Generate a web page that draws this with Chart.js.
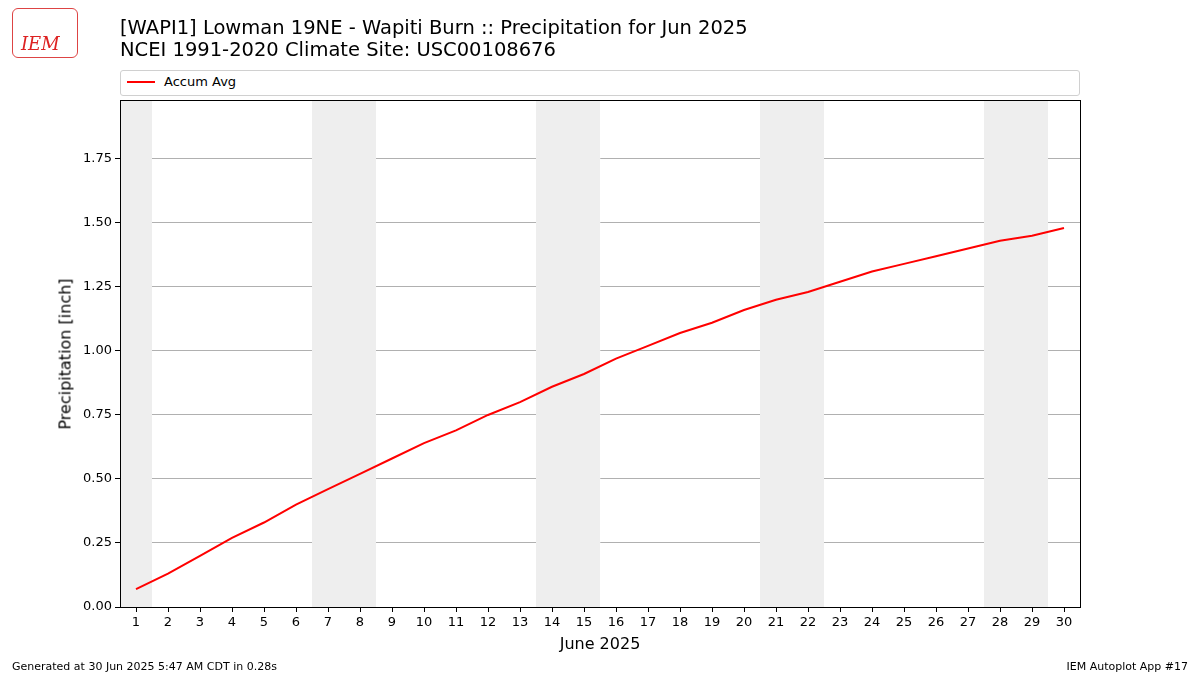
<!DOCTYPE html>
<html>
<head>
<meta charset="utf-8">
<script src="https://cdn.jsdelivr.net/npm/chart.js@4/dist/chart.umd.min.js"></script>
<style>
  body { margin: 0; background: #fff; font-family: "DejaVu Sans", sans-serif; }
  #wrap { position: relative; width: 1200px; height: 675px; }
  canvas { position: absolute; left: 0; top: 0; }
  .title { position: absolute; left: 120px; top: 17px; font-size: 19.5px; line-height: 22px; color: #000; }
  .legend { position: absolute; left: 120px; top: 70px; width: 958px; height: 24px; border: 1px solid #d0d0d0; border-radius: 3px; font-size: 13px; background: #fff; }
  .legend span.l { position: absolute; left: 6px; top: 10px; width: 28px; border-top: 2px solid red; }
  .legend span.t { position: absolute; left: 43px; top: 3px; }
  .foot { position: absolute; top: 660px; font-size: 11px; }
  .xt { position: absolute; left: 500px; width: 200px; text-align: center; top: 634px; font-size: 16px; }
  .yt { position: absolute; left: 65px; top: 354px; font-size: 16px; white-space: nowrap; transform: translate(-50%, -50%) rotate(-90deg); }
  .logo { position: absolute; left: 12px; top: 8px; width: 64px; height: 48px; border: 1px solid #d44; border-radius: 6px; }
  .logo span { position: absolute; left: 8px; top: 24px; color: #d22; font-family: "DejaVu Serif", serif; font-style: italic; font-size: 18px; }
</style>
</head>
<body>
<div id="wrap">
  <canvas id="c" width="1200" height="675"></canvas>
  <div class="logo"><span>IEM</span></div>
  <div class="title">[WAPI1] Lowman 19NE - Wapiti Burn :: Precipitation for Jun 2025<br>NCEI 1991-2020 Climate Site: USC00108676</div>
  <div class="legend"><span class="l"></span><span class="t">Accum Avg</span></div>
  <div class="xt">June 2025</div>
  <div class="yt">Precipitation [inch]</div>
  <div class="foot" style="left:12px">Generated at 30 Jun 2025 5:47 AM CDT in 0.28s</div>
  <div class="foot" style="right:12px">IEM Autoplot App #17</div>
</div>
<script>
var days = [];
for (var i = 1; i <= 30; i++) days.push(i);
var accumAvg = [0.07, 0.13, 0.20, 0.27, 0.33, 0.40, 0.46, 0.52, 0.58, 0.64,
                0.69, 0.75, 0.80, 0.86, 0.91, 0.97, 1.02, 1.07, 1.11, 1.16,
                1.20, 1.23, 1.27, 1.31, 1.34, 1.37, 1.40, 1.43, 1.45, 1.48];
var weekendDays = [1, 7, 8, 14, 15, 21, 22, 28, 29];
var yTicks = [0, 0.25, 0.5, 0.75, 1, 1.25, 1.5, 1.75];

var weekendBands = {
  id: 'weekendBands',
  beforeDatasetsDraw: function (chart) {
    var ctx = chart.ctx, x = chart.scales.x, a = chart.chartArea;
    ctx.save();
    ctx.fillStyle = '#eeeeee';
    weekendDays.forEach(function (d) {
      var x0 = x.getPixelForValue(d - 0.5), x1 = x.getPixelForValue(d + 0.5);
      ctx.fillRect(x0, a.top, x1 - x0, a.bottom - a.top);
    });
    ctx.restore();
  },
  afterDraw: function (chart) {
    var ctx = chart.ctx, a = chart.chartArea;
    ctx.save();
    ctx.strokeStyle = '#000';
    ctx.lineWidth = 1;
    ctx.strokeRect(a.left + 0.5, a.top + 0.5, a.right - a.left, a.bottom - a.top);
    ctx.restore();
  }
};

Chart.defaults.font.family = '"DejaVu Sans", sans-serif';
Chart.defaults.color = '#000';

new Chart(document.getElementById('c'), {
  type: 'line',
  data: {
    datasets: [{
      label: 'Accum Avg',
      data: days.map(function (d, i) { return { x: d, y: accumAvg[i] }; }),
      borderColor: 'red',
      borderWidth: 2,
      pointRadius: 0,
      tension: 0,
    }],
  },
  options: {
    responsive: false,
    animation: false,
    layout: { padding: { top: 100, right: 120, left: 0, bottom: 0 } },
    plugins: { legend: { display: false }, tooltip: { enabled: false } },
    scales: {
      x: {
        type: 'linear',
        min: 0.5,
        max: 30.5,
        afterFit: function (s) { s.height = 68; },
        border: { color: '#000' },
        grid: { drawOnChartArea: false, color: '#000', tickLength: 5 },
        ticks: { autoSkip: false, font: { size: 13 }, callback: function (v) { return v; } },
        afterBuildTicks: function (s) { s.ticks = days.map(function (d) { return { value: d }; }); },
      },
      y: {
        min: 0,
        max: 1.98,
        afterFit: function (s) { s.width = 120; },
        afterBuildTicks: function (s) { s.ticks = yTicks.map(function (v) { return { value: v }; }); },
        border: { color: '#000' },
        grid: { color: '#b0b0b0', tickColor: '#000', tickLength: 5 },
        ticks: { font: { size: 13 }, callback: function (v) { return v.toFixed(2); } },
      },
    },
  },
  plugins: [weekendBands],
});
</script>
</body>
</html>
